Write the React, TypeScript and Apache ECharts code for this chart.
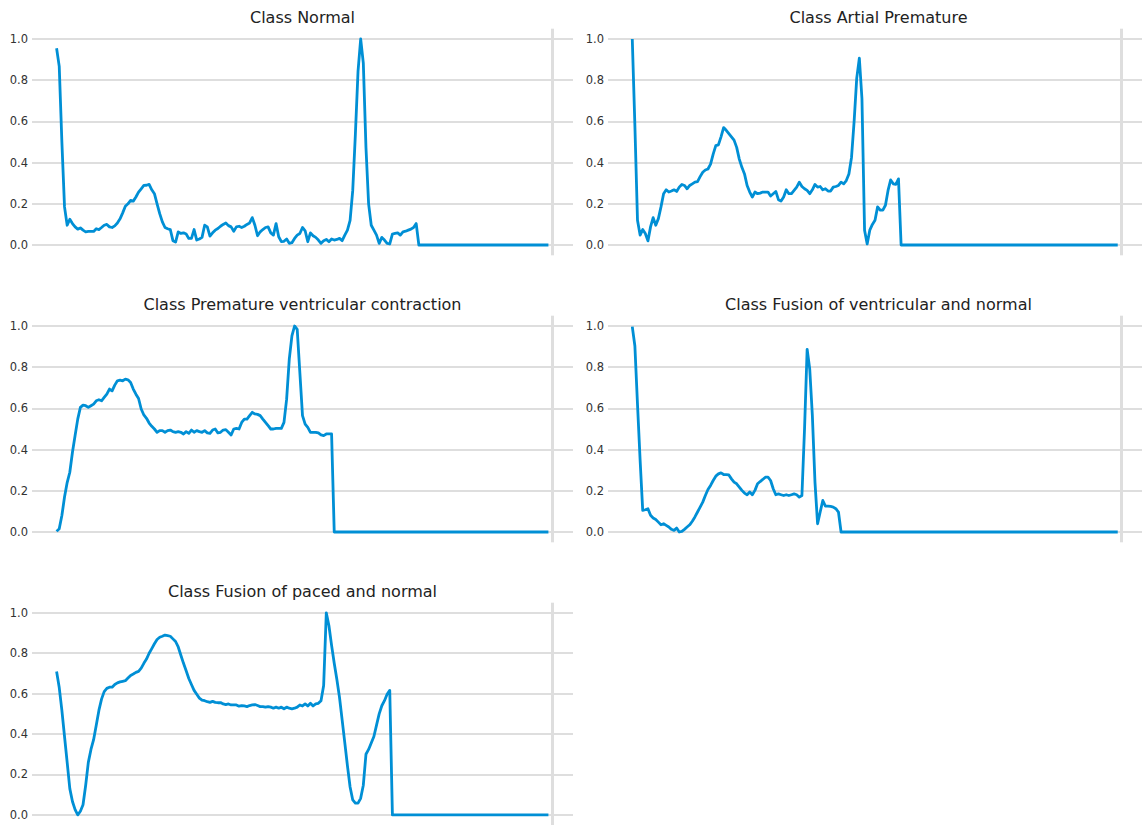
import { useEffect, useRef } from "react";
import * as echarts from "echarts";

// ---- data (187 samples per heartbeat) ----
const TITLES = [
  "Class Normal",
  "Class Artial Premature",
  "Class Premature ventricular contraction",
  "Class Fusion of ventricular and normal",
  "Class Fusion of paced and normal",
];

const Y_TICKS = [0, 0.2, 0.4, 0.6, 0.8, 1.0];
const X_MIN = -9.3;
const X_MAX = 195.3;
const X_GRIDLINE = 187.5;
const Y_MIN = -0.05;
const Y_MAX = 1.05;

const normal = [
  0.955, 0.867, 0.5, 0.185, 0.096, 0.125, 0.104, 0.088, 0.077, 0.083,
  0.072, 0.064, 0.066, 0.066, 0.066, 0.079, 0.075, 0.085, 0.096, 0.1,
  0.088, 0.085, 0.093, 0.107, 0.127, 0.156, 0.188, 0.2, 0.217, 0.213,
  0.233, 0.257, 0.273, 0.289, 0.29, 0.294, 0.268, 0.249, 0.2, 0.152,
  0.112, 0.085, 0.079, 0.075, 0.021, 0.014, 0.064, 0.056, 0.059, 0.053,
  0.032, 0.032, 0.075, 0.024, 0.029, 0.037, 0.096, 0.088, 0.043, 0.059,
  0.072, 0.08, 0.091, 0.1, 0.107, 0.094, 0.088, 0.067, 0.088, 0.091,
  0.085, 0.091, 0.1, 0.107, 0.133, 0.096, 0.045, 0.064, 0.075, 0.085,
  0.088, 0.059, 0.048, 0.104, 0.04, 0.016, 0.018, 0.029, 0.008, 0.011,
  0.032, 0.048, 0.056, 0.085, 0.069, 0.016, 0.059, 0.045, 0.037, 0.024,
  0.008, 0.021, 0.027, 0.016, 0.029, 0.024, 0.027, 0.032, 0.021, 0.048,
  0.072, 0.12, 0.265, 0.538, 0.843, 1.0, 0.883, 0.473, 0.2, 0.096,
  0.072, 0.048, 0.008, 0.037, 0.024, 0.008, 0.005, 0.053, 0.056, 0.059,
  0.048, 0.064, 0.067, 0.072, 0.077, 0.085, 0.104,
  0, 0, 0, 0, 0, 0, 0, 0, 0, 0,
  0, 0, 0, 0, 0, 0, 0, 0, 0, 0,
  0, 0, 0, 0, 0, 0, 0, 0, 0, 0,
  0, 0, 0, 0, 0, 0, 0, 0, 0, 0,
  0, 0, 0, 0, 0, 0, 0, 0, 0, 0,
];

const artialPremature = [
  1.0, 0.58, 0.12, 0.048, 0.075, 0.056, 0.02, 0.088, 0.133, 0.096,
  0.128, 0.185, 0.249, 0.268, 0.257, 0.262, 0.268, 0.26, 0.281, 0.294,
  0.289, 0.273, 0.289, 0.297, 0.305, 0.308, 0.332, 0.353, 0.364, 0.369,
  0.393, 0.441, 0.482, 0.486, 0.525, 0.57, 0.557, 0.541, 0.525, 0.509,
  0.474, 0.417, 0.377, 0.345, 0.289, 0.257, 0.233, 0.257, 0.249, 0.252,
  0.257, 0.257, 0.257, 0.238, 0.249, 0.26, 0.22, 0.213, 0.233, 0.268,
  0.249, 0.249, 0.265, 0.281, 0.305, 0.284, 0.273, 0.265, 0.249, 0.268,
  0.294, 0.281, 0.284, 0.268, 0.273, 0.262, 0.262, 0.281, 0.284, 0.289,
  0.305, 0.297, 0.313, 0.345, 0.425, 0.6, 0.81, 0.907, 0.71, 0.072,
  0.005, 0.072, 0.1, 0.12, 0.185, 0.169, 0.169, 0.193, 0.265, 0.316,
  0.297, 0.294, 0.321,
  0, 0, 0, 0, 0, 0, 0, 0, 0, 0,
  0, 0, 0, 0, 0, 0, 0, 0, 0, 0,
  0, 0, 0, 0, 0, 0, 0, 0, 0, 0,
  0, 0, 0, 0, 0, 0, 0, 0, 0, 0,
  0, 0, 0, 0, 0, 0, 0, 0, 0, 0,
  0, 0, 0, 0, 0, 0, 0, 0, 0, 0,
  0, 0, 0, 0, 0, 0, 0, 0, 0, 0,
  0, 0, 0, 0, 0, 0, 0, 0, 0, 0,
  0, 0, 0, 0,
];

const prematureVentricular = [
  0.003, 0.016, 0.08, 0.17, 0.24, 0.29, 0.387, 0.468, 0.548, 0.605,
  0.616, 0.613, 0.605, 0.613, 0.621, 0.637, 0.642, 0.637, 0.653, 0.669,
  0.694, 0.685, 0.713, 0.734, 0.737, 0.734, 0.742, 0.739, 0.726, 0.694,
  0.669, 0.648, 0.597, 0.568, 0.552, 0.529, 0.513, 0.5, 0.484, 0.492,
  0.492, 0.484, 0.492, 0.495, 0.487, 0.484, 0.487, 0.484, 0.476, 0.487,
  0.479, 0.495, 0.484, 0.492, 0.487, 0.484, 0.492, 0.481, 0.479, 0.495,
  0.5, 0.481, 0.484, 0.495, 0.497, 0.484, 0.471, 0.5, 0.503, 0.5,
  0.532, 0.548, 0.548, 0.565, 0.581, 0.573, 0.571, 0.565, 0.548, 0.532,
  0.516, 0.5, 0.5, 0.503, 0.503, 0.503, 0.532, 0.645, 0.839, 0.952,
  1.0, 0.984, 0.774, 0.565, 0.524, 0.508, 0.484, 0.484, 0.484, 0.481,
  0.471, 0.468, 0.476, 0.476, 0.476,
  0, 0, 0, 0, 0, 0, 0, 0, 0, 0,
  0, 0, 0, 0, 0, 0, 0, 0, 0, 0,
  0, 0, 0, 0, 0, 0, 0, 0, 0, 0,
  0, 0, 0, 0, 0, 0, 0, 0, 0, 0,
  0, 0, 0, 0, 0, 0, 0, 0, 0, 0,
  0, 0, 0, 0, 0, 0, 0, 0, 0, 0,
  0, 0, 0, 0, 0, 0, 0, 0, 0, 0,
  0, 0, 0, 0, 0, 0, 0, 0, 0, 0,
  0, 0,
];

const fusionVentricularNormal = [
  0.997, 0.903, 0.62, 0.35, 0.105, 0.108, 0.113, 0.081, 0.068, 0.061,
  0.048, 0.035, 0.04, 0.032, 0.024, 0.013, 0.008, 0.019, 0.0, 0.003,
  0.013, 0.024, 0.035, 0.052, 0.073, 0.097, 0.121, 0.145, 0.177, 0.206,
  0.226, 0.25, 0.271, 0.282, 0.287, 0.279, 0.279, 0.277, 0.258, 0.242,
  0.234, 0.218, 0.202, 0.189, 0.181, 0.194, 0.181, 0.202, 0.234, 0.245,
  0.255, 0.266, 0.266, 0.25, 0.21, 0.181, 0.185, 0.181, 0.177, 0.181,
  0.177, 0.181, 0.185, 0.181, 0.169, 0.177, 0.5, 0.887, 0.79, 0.565,
  0.242, 0.04, 0.097, 0.153, 0.126, 0.126, 0.124, 0.121, 0.113, 0.097,
  0, 0, 0, 0, 0, 0, 0, 0, 0, 0,
  0, 0, 0, 0, 0, 0, 0, 0, 0, 0,
  0, 0, 0, 0, 0, 0, 0, 0, 0, 0,
  0, 0, 0, 0, 0, 0, 0, 0, 0, 0,
  0, 0, 0, 0, 0, 0, 0, 0, 0, 0,
  0, 0, 0, 0, 0, 0, 0, 0, 0, 0,
  0, 0, 0, 0, 0, 0, 0, 0, 0, 0,
  0, 0, 0, 0, 0, 0, 0, 0, 0, 0,
  0, 0, 0, 0, 0, 0, 0, 0, 0, 0,
  0, 0, 0, 0, 0, 0, 0, 0, 0, 0,
  0, 0, 0, 0, 0, 0, 0,
];

const fusionPacedNormal = [
  0.71, 0.63, 0.517, 0.388, 0.26, 0.13, 0.066, 0.026, 0.0, 0.018,
  0.05, 0.147, 0.26, 0.324, 0.372, 0.444, 0.517, 0.573, 0.61, 0.626,
  0.632, 0.632, 0.645, 0.653, 0.658, 0.661, 0.664, 0.677, 0.69, 0.697,
  0.705, 0.71, 0.726, 0.75, 0.771, 0.8, 0.823, 0.847, 0.868, 0.879,
  0.884, 0.89, 0.887, 0.884, 0.871, 0.858, 0.831, 0.79, 0.75, 0.713,
  0.675, 0.645, 0.616, 0.597, 0.578, 0.568, 0.565, 0.56, 0.557, 0.562,
  0.557, 0.555, 0.556, 0.549, 0.546, 0.549, 0.544, 0.544, 0.544, 0.538,
  0.541, 0.539, 0.536, 0.541, 0.544, 0.546, 0.541, 0.536, 0.536, 0.533,
  0.536, 0.533, 0.528, 0.533, 0.528, 0.533, 0.525, 0.533, 0.528, 0.525,
  0.528, 0.533, 0.544, 0.539, 0.549, 0.539, 0.552, 0.539, 0.549, 0.552,
  0.565, 0.64, 1.0, 0.936, 0.839, 0.75, 0.67, 0.581, 0.469, 0.356,
  0.243, 0.138, 0.074, 0.058, 0.058, 0.082, 0.147, 0.3, 0.324, 0.356,
  0.388, 0.444, 0.5, 0.54, 0.565, 0.597, 0.616,
  0, 0, 0, 0, 0, 0, 0, 0, 0, 0,
  0, 0, 0, 0, 0, 0, 0, 0, 0, 0,
  0, 0, 0, 0, 0, 0, 0, 0, 0, 0,
  0, 0, 0, 0, 0, 0, 0, 0, 0, 0,
  0, 0, 0, 0, 0, 0, 0, 0, 0, 0,
  0, 0, 0, 0, 0, 0, 0, 0, 0, 0,
];

const SERIES = [
  normal,
  artialPremature,
  prematureVentricular,
  fusionVentricularNormal,
  fusionPacedNormal,
];

// ---- layout ----
const GRID_W = 541;
const GRID_H = 226.6;
const PANELS = [
  { left: 32, top: 28.7 },
  { left: 608, top: 28.7 },
  { left: 32, top: 315.7 },
  { left: 608, top: 315.7 },
  { left: 32, top: 602.7 },
];

const LINE_COLOR = "#008fd5";
const GRID_COLOR = "#dedede";
const FONT = "DejaVu Sans";

export default function App() {
  const ref = useRef<HTMLDivElement>(null);

  useEffect(() => {
    if (!ref.current) return;
    const chart = echarts.init(ref.current, undefined, { renderer: "svg" });

    const series: any[] = [];
    SERIES.forEach((values, i) => {
      const pairs = values.map((v, k) => [k, v]);
      series.push({
        type: "line",
        xAxisIndex: i,
        yAxisIndex: i,
        data: pairs,
        symbol: "none",
        lineStyle: { opacity: 0 },
        silent: true,
        z: 1,
        markLine: {
          silent: true,
          z: 1,
          symbol: ["none", "none"],
          label: { show: false },
          lineStyle: { color: GRID_COLOR, width: 2, type: "solid" },
          data: [
            ...Y_TICKS.map((v) => ({ yAxis: v })),
            { xAxis: X_GRIDLINE, lineStyle: { color: GRID_COLOR, width: 3, type: "solid" } },
          ],
        },
      });
      series.push({
        type: "line",
        xAxisIndex: i,
        yAxisIndex: i,
        data: pairs,
        symbol: "none",
        showSymbol: false,
        clip: false,
        silent: true,
        z: 10,
        lineStyle: { color: LINE_COLOR, width: 2.8, join: "round" },
      });
    });

    const option: any = {
      animation: false,
      backgroundColor: "#ffffff",
      grid: PANELS.map((p) => ({
        left: p.left,
        top: p.top,
        width: GRID_W,
        height: GRID_H,
        containLabel: false,
      })),
      xAxis: PANELS.map((_, i) => ({
        type: "value",
        gridIndex: i,
        min: X_MIN,
        max: X_MAX,
        show: false,
      })),
      yAxis: PANELS.map((_, i) => ({
        type: "value",
        gridIndex: i,
        min: Y_MIN,
        max: Y_MAX,
        axisLine: { show: false },
        axisTick: { show: false },
        splitLine: { show: false },
        axisLabel: {
          customValues: Y_TICKS,
          formatter: (v: number) => v.toFixed(1),
          margin: 4,
          color: "#333333",
          fontSize: 11.5,
          fontFamily: FONT,
        },
      })),
      graphic: PANELS.map((p, i) => ({
        type: "text",
        x: p.left + GRID_W / 2,
        y: p.top - 11,
        silent: true,
        style: {
          text: TITLES[i],
          fill: "#222222",
          fontSize: 16,
          fontFamily: FONT,
          align: "center",
          verticalAlign: "middle",
        },
      })),
      series,
    };

    chart.setOption(option);
    return () => chart.dispose();
  }, []);

  return (
    <div
      ref={ref}
      style={{
        position: "fixed",
        left: 0,
        top: 0,
        width: 1142,
        height: 825,
        background: "#ffffff",
      }}
    />
  );
}
